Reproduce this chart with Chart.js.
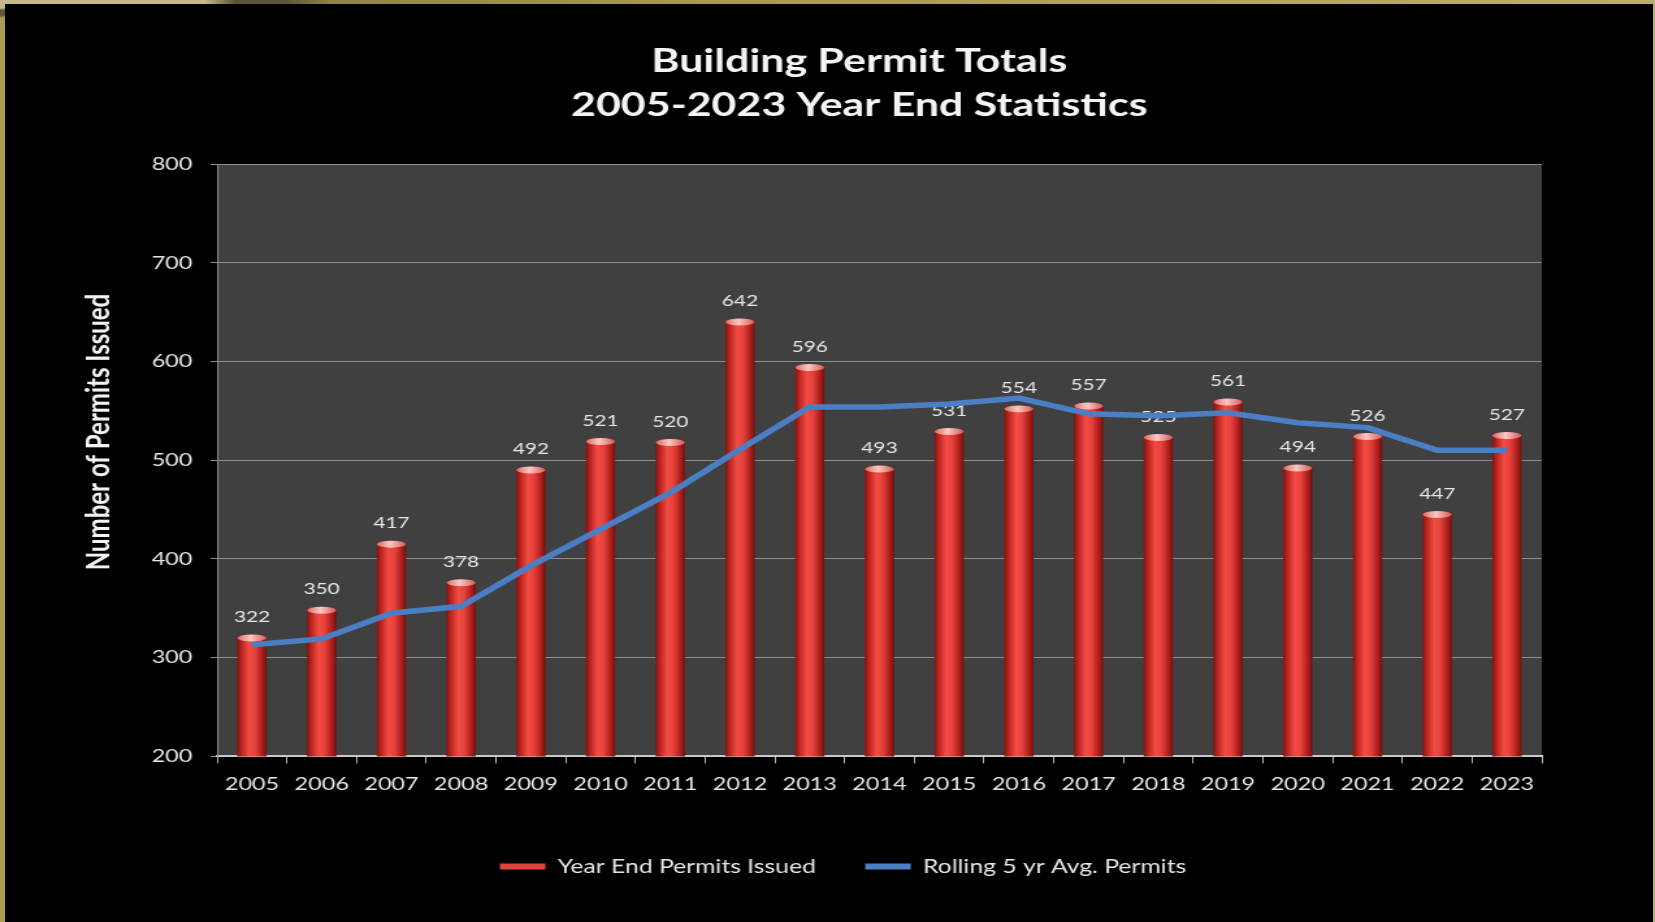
<!DOCTYPE html>
<html>
<head>
<meta charset="utf-8">
<script src="https://cdn.jsdelivr.net/npm/chart.js@4.4.1/dist/chart.umd.min.js"></script>
<style>
  html, body { margin: 0; padding: 0; background: #000; width: 1655px; height: 922px; overflow: hidden; }
  #wrap { position: absolute; left: 0; top: 0; width: 1273px; height: 922px; transform: scaleX(1.3); transform-origin: 0 0; }
  .frame { position: absolute; z-index: 5; }
  #ftop { left: 0; top: 0; width: 1655px; height: 4px;
          background: linear-gradient(to right, #c8b98a 0px, #c8b98a 205px, #5c5535 235px, #5c5535 285px, #8f8443 330px, #a89a55 700px, #bcad6c 1655px); }
  #fleft { left: 0; top: 0; width: 5px; height: 922px;
           background: linear-gradient(to bottom, #c8b98a 0px, #c8b98a 8px, #5c5535 10px, #5c5535 15px, #a99b52 18px, #a99b52 922px); }
  #fright { right: 0; top: 0; width: 2px; height: 922px; background: #bdae6e; }
</style>
</head>
<body>
<div id="wrap">
  <canvas id="c" width="1273" height="922"></canvas>
</div>
<div class="frame" id="ftop"></div>
<div class="frame" id="fleft"></div>
<div class="frame" id="fright"></div>
<script>
const years = ['2005','2006','2007','2008','2009','2010','2011','2012','2013','2014','2015','2016','2017','2018','2019','2020','2021','2022','2023'];
const permitsIssued = [322,350,417,378,492,521,520,642,596,493,531,554,557,525,561,494,526,447,527];
const rollingAvg = [313,319,345,352,393,430,467,511,554,554,557,563,547,545,548,538,533,510,510];
const yTicks = [200,300,400,500,600,700,800];
const titleLines = ['Building Permit Totals', '2005-2023 Year End Statistics'];
const yAxisTitle = 'Number of Permits Issued';

const FONT = 'Lato, "Open Sans", sans-serif';
const TEXT = '#e6e6e6';

const plotBg = {
  id: 'plotBg',
  beforeDraw(chart) {
    const {ctx, chartArea: a} = chart;
    ctx.save();
    ctx.fillStyle = '#404040';
    ctx.fillRect(a.left, a.top, a.right - a.left, a.bottom - a.top);
    ctx.restore();
  }
};

const cylinderTops = {
  id: 'cylinderTops',
  afterDatasetDraw(chart, args) {
    if (chart.data.datasets[args.index].type !== 'bar') return;
    const ctx = chart.ctx;
    ctx.save();
    args.meta.data.forEach((el, i) => {
      const w = el.width;
      const g = ctx.createLinearGradient(el.x - w/2, 0, el.x + w/2, 0);
      g.addColorStop(0, '#d86a66');
      g.addColorStop(0.45, '#ffc8c4');
      g.addColorStop(1, '#d05a56');
      ctx.fillStyle = g;
      ctx.beginPath();
      ctx.ellipse(el.x, el.y + 2, w/2, 3.5, 0, 0, Math.PI * 2);
      ctx.fill();
      ctx.fillStyle = TEXT;
      ctx.font = '16px ' + FONT;
      ctx.textAlign = 'center';
      ctx.textBaseline = 'middle';
      ctx.fillText(String(chart.data.datasets[args.index].data[i]), el.x, el.y - 19);
    });
    ctx.restore();
  }
};

const texts = {
  id: 'texts',
  afterDraw(chart) {
    const ctx = chart.ctx;
    ctx.save();
    ctx.fillStyle = '#f4f4f4';
    ctx.font = 'bold 33px ' + FONT;
    ctx.textAlign = 'center';
    ctx.textBaseline = 'middle';
    ctx.fillText(titleLines[0], 661, 61);
    ctx.fillText(titleLines[1], 661, 105);
    ctx.translate(76, 432);
    ctx.rotate(-Math.PI / 2);
    ctx.fillStyle = '#f2f2f2';
    ctx.font = 'bold 24px ' + FONT;
    ctx.fillText(yAxisTitle, 0, 0);
    ctx.restore();
  }
};

function barGradient(context) {
  const chart = context.chart;
  const xs = chart.scales.x;
  if (!chart.chartArea || !xs || context.dataIndex === undefined) return '#e0443e';
  const cx = xs.getPixelForValue(context.dataIndex);
  const w = (xs.width / years.length) * 0.42;
  const g = chart.ctx.createLinearGradient(cx - w/2, 0, cx + w/2, 0);
  g.addColorStop(0, '#7e1512');
  g.addColorStop(0.15, '#bd241f');
  g.addColorStop(0.4, '#f24d44');
  g.addColorStop(0.6, '#e6423b');
  g.addColorStop(0.85, '#ad1e1a');
  g.addColorStop(1, '#6e1210');
  return g;
}

new Chart(document.getElementById('c'), {
  data: {
    labels: years,
    datasets: [
      {
        type: 'bar',
        label: 'Year End Permits Issued',
        data: permitsIssued,
        backgroundColor: barGradient,
        borderWidth: 0,
        barPercentage: 0.42,
        categoryPercentage: 1.0,
        order: 1,
        yAxisID: 'y'
      },
      {
        type: 'line',
        label: 'Rolling 5 yr Avg. Permits',
        data: rollingAvg,
        borderColor: '#4b7fc4',
        backgroundColor: '#4b7fc4',
        borderWidth: 5.5,
        pointRadius: 0,
        tension: 0,
        order: 0,
        yAxisID: 'y'
      }
    ]
  },
  options: {
    responsive: false,
    animation: false,
    layout: { padding: { left: 24, right: 0, top: 164, bottom: 36 } },
    scales: {
      x: {
        offset: true,
        afterFit(scale) { scale.height += 14; },
        grid: { display: true, drawOnChartArea: false, offset: true, tickLength: 7, color: '#b5b5b5', lineWidth: 1 },
        border: { display: true, color: '#c8c8c8', width: 2 },
        ticks: { color: TEXT, font: { family: FONT, size: 18 }, padding: 10, maxRotation: 0, autoSkip: false }
      },
      y: {
        position: 'left',
        min: 200, max: 800,
        afterBuildTicks(scale) { scale.ticks = yTicks.map(v => ({ value: v })); },
        afterFit(scale) { scale.width = 143; },
        grid: { color: '#8e8e8e', lineWidth: 1, tickLength: 5, drawTicks: true },
        border: { display: true, color: '#8e8e8e' },
        ticks: { color: TEXT, font: { family: FONT, size: 18 }, padding: 14 }
      },
      y2: {
        position: 'right',
        display: true,
        min: 200, max: 800,
        afterFit(scale) { scale.width = 87; },
        grid: { display: false },
        border: { display: false },
        ticks: { display: false }
      }
    },
    plugins: {
      title: { display: false },
      legend: {
        position: 'bottom',
        labels: {
          color: TEXT,
          font: { family: FONT, size: 19 },
          boxWidth: 35,
          boxHeight: 6,
          padding: 38,
          sort: (a, b) => a.datasetIndex - b.datasetIndex,
          generateLabels(chart) {
            const items = Chart.defaults.plugins.legend.labels.generateLabels(chart);
            items.forEach(it => {
              it.fillStyle = it.datasetIndex === 0 ? '#e0443e' : '#4b7fc4';
              it.strokeStyle = 'rgba(0,0,0,0)';
              it.lineWidth = 0;
            });
            return items;
          }
        }
      },
      tooltip: { enabled: false }
    }
  },
  plugins: [plotBg, cylinderTops, texts]
});
</script>
</body>
</html>
